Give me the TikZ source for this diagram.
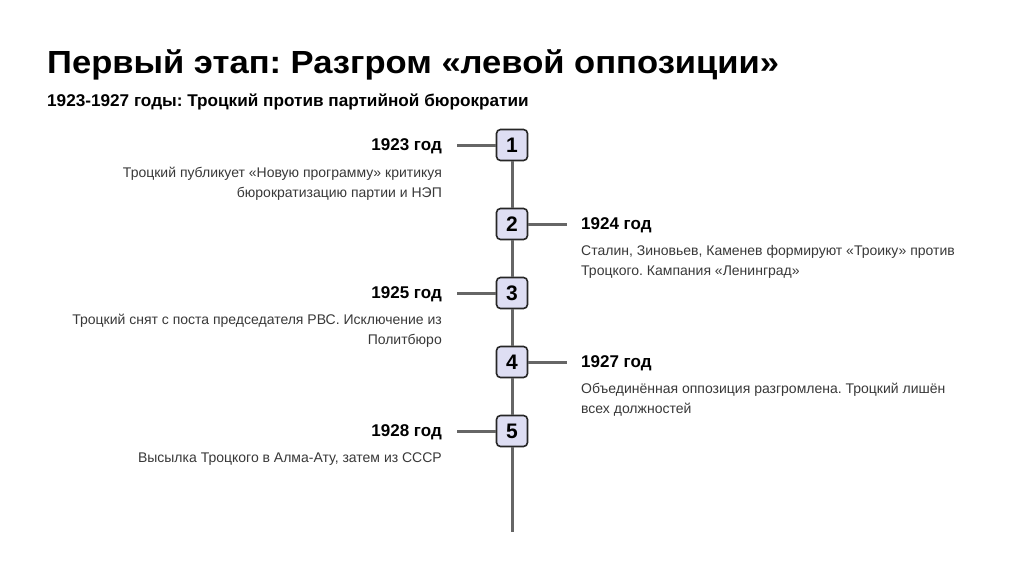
\documentclass[tikz,border=0pt]{standalone}
\usepackage{fontspec}
\setmainfont{Liberation Sans}
\definecolor{boxfill}{HTML}{DEDEF3}
\definecolor{linegray}{HTML}{666666}
\definecolor{desc}{HTML}{383838}
\begin{document}
\frenchspacing
\begin{tikzpicture}[x=1pt,y=-1pt,
  stepbox/.style={draw=black!85,line width=1.6pt,fill=boxfill,rounded corners=4pt,minimum width=31pt,minimum height=31pt,inner sep=0pt,font=\fontsize{21}{21}\selectfont\bfseries},
  yearL/.style={anchor=base east,font=\fontsize{17}{19}\selectfont\bfseries,inner sep=0pt},
  yearR/.style={anchor=base west,font=\fontsize{17}{19}\selectfont\bfseries,inner sep=0pt},
  descL/.style={anchor=north east,align=right,text=desc,font=\fontsize{14}{20}\selectfont,inner sep=0pt},
  descR/.style={anchor=north west,align=left,text=desc,font=\fontsize{14}{20}\selectfont,inner sep=0pt},
  conn/.style={draw=linegray,line width=3pt}]
\useasboundingbox (0,0) rectangle (1024,574);
\node[anchor=base west,inner sep=0pt,font=\fontsize{32}{36}\selectfont\bfseries\addfontfeatures{FakeStretch=1.08}] (title) at (47,73) {Первый этап: Разгром «левой оппозиции»};
\node[anchor=base west,inner sep=0pt,font=\fontsize{17}{19}\selectfont\bfseries\addfontfeatures{FakeStretch=1.01}] (sub) at (47,106) {1923-1927 годы: Троцкий против партийной бюрократии};
\coordinate (end) at (512,532);
\node[stepbox] (b1) at (512,145) {1};
\node[stepbox] (b2) at (512,224) {2};
\node[stepbox] (b3) at (512,293) {3};
\node[stepbox] (b4) at (512,362) {4};
\node[stepbox] (b5) at (512,431) {5};
\draw[conn] (b1.south) -- (b2.north);
\draw[conn] (b2.south) -- (b3.north);
\draw[conn] (b3.south) -- (b4.north);
\draw[conn] (b4.south) -- (b5.north);
\draw[conn] (b5.south) -- (end);
\coordinate (c1) at (457,145);
\coordinate (c2) at (567,224);
\coordinate (c3) at (457,293);
\coordinate (c4) at (567,362);
\coordinate (c5) at (457,431);
\draw[conn] (c1) -- (b1.west);
\draw[conn] (b2.east) -- (c2);
\draw[conn] (c3) -- (b3.west);
\draw[conn] (b4.east) -- (c4);
\draw[conn] (c5) -- (b5.west);
\node[yearL] (y1) at (442,150) {1923 год};
\node[descL] (d1) at (442,167) {Троцкий публикует «Новую программу» критикуя\\бюрократизацию партии и НЭП};
\node[yearR] (y2) at (581,229) {1924 год};
\node[descR] (d2) at (581,245) {Сталин, Зиновьев, Каменев формируют «Троику» против\\Троцкого. Кампания «Ленинград»};
\node[yearL] (y3) at (442,298) {1925 год};
\node[descL] (d3) at (442,314) {Троцкий снят с поста председателя РВС. Исключение из\\Политбюро};
\node[yearR] (y4) at (581,367) {1927 год};
\node[descR] (d4) at (581,383) {Объединённая оппозиция разгромлена. Троцкий лишён\\всех должностей};
\node[yearL] (y5) at (442,436) {1928 год};
\node[descL] (d5) at (442,453) {Высылка Троцкого в Алма-Ату, затем из СССР};
\end{tikzpicture}
\end{document}
